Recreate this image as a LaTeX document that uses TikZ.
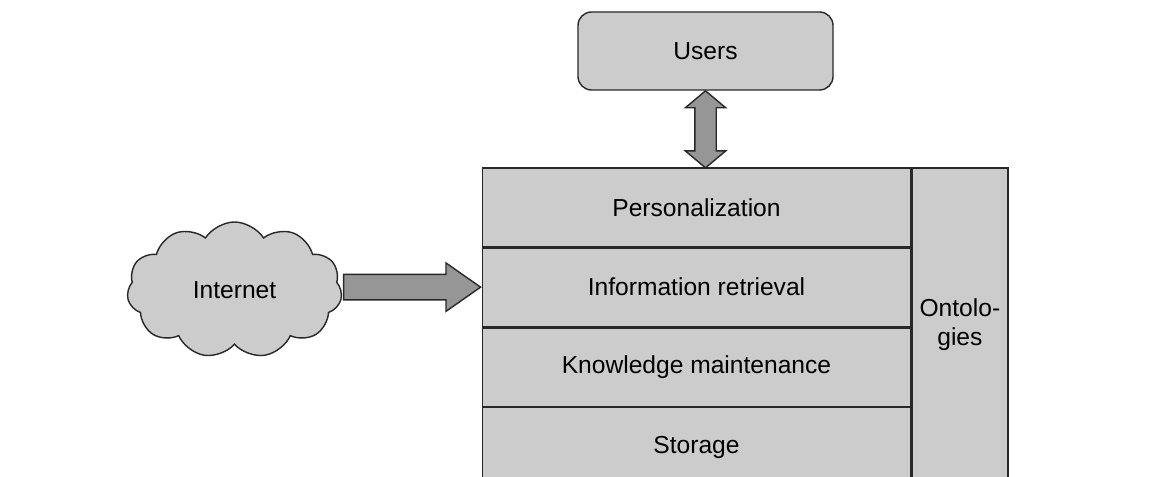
\documentclass[tikz,border=0pt]{standalone}
\usepackage{fontspec}
\setmainfont{Liberation Sans}
\usetikzlibrary{positioning, shapes.symbols, shapes.arrows, calc}
\definecolor{BoxGray}{RGB}{204,204,204}
\definecolor{ArrowGray}{RGB}{150,150,150}
\definecolor{LineColor}{RGB}{40,40,40}
\tikzstyle{layer} = [rectangle, draw=LineColor, fill=BoxGray, line width=0.8pt, minimum width=8.56cm, minimum height=1.57cm, inner sep=0pt]
\tikzset{
  users/.style={rectangle, rounded corners=0.27cm, draw=LineColor, fill=BoxGray, line width=0.8pt, minimum width=5.1cm, minimum height=1.56cm},
  ontology/.style={rectangle, draw=LineColor, fill=BoxGray, line width=0.8pt, minimum width=1.92cm, minimum height=6.28cm, inner sep=0pt, align=center},
  internet/.style={cloud, cloud puffs=11, cloud puff arc=115, draw=LineColor, fill=BoxGray, line width=0.8pt, minimum width=4.3cm, minimum height=2.72cm, aspect=1.6},
  fat arrow/.style={single arrow, draw=LineColor, fill=ArrowGray, line width=0.8pt, minimum height=2.74cm, inner xsep=0pt, inner ysep=0.24cm, single arrow head extend=0.23cm, single arrow tip angle=70},
  both arrow/.style={double arrow, draw=LineColor, fill=ArrowGray, line width=0.8pt, minimum height=1.54cm, inner xsep=0pt, inner ysep=0.2cm, double arrow head extend=0.19cm, double arrow tip angle=100}
}

\begin{document}
\begin{tikzpicture}[font=\fontsize{14}{16.5}\selectfont]
  \useasboundingbox (0,0) rectangle (23.42,9.54);
  \clip (0,0) rectangle (23.42,9.54);

  % Users
  \node[users] (users) at (14.11,8.52) {Users};

  % Layers
  \node[layer, anchor=north] (personalization) at (13.93,6.194) {Personalization};
  \node[layer, below=0pt of personalization] (retrieval) {Information retrieval};
  \node[layer, below=0pt of retrieval] (maintenance) {Knowledge maintenance};
  \node[layer, below=0pt of maintenance] (storage) {Storage};

  % Ontologies
  \node[ontology, anchor=north west] (ontologies) at (personalization.north east) {Ontolo-\\gies};

  % Users <-> system
  \node[both arrow, rotate=90] (link) at ($(users.south)+(0,-0.773)$) {};

  % Internet
  \node[internet] (internet) at (4.69,3.74) {Internet};
  \node[fat arrow, anchor=tip] (feed) at (retrieval.west) {};
\end{tikzpicture}
\end{document}
